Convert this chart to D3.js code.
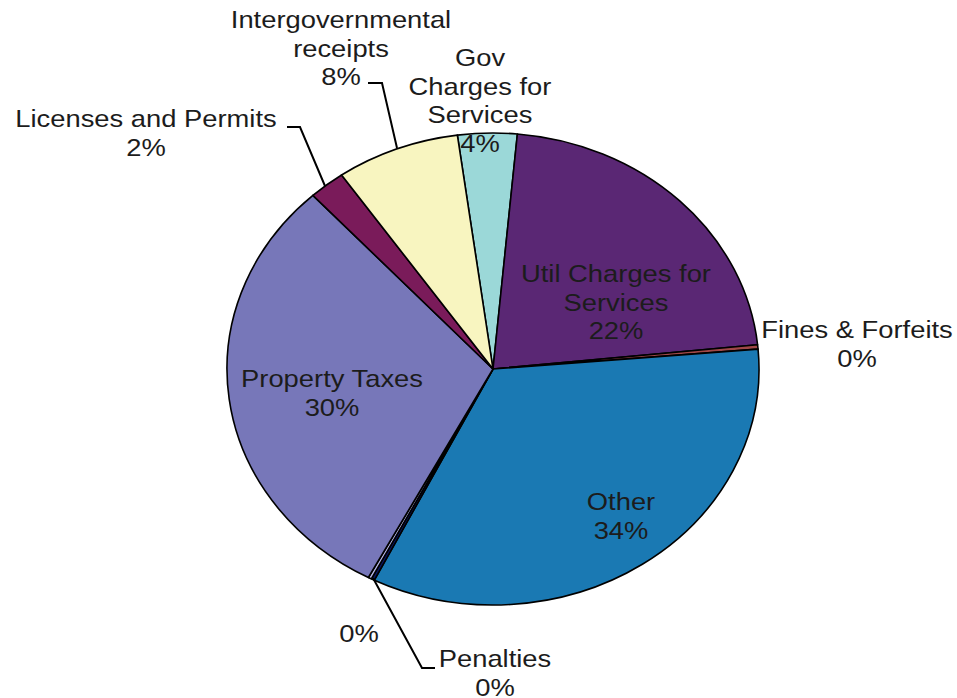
<!DOCTYPE html>
<html>
<head>
<meta charset="utf-8">
<script src="https://cdn.jsdelivr.net/npm/d3@7"></script>
<style>
  html, body { margin: 0; padding: 0; background: #fff; }
  svg { display: block; }
  text { font-family: "Liberation Sans", Arial, sans-serif; font-size: 24px; fill: #1c1c1c; }
</style>
</head>
<body>
<svg width="957" height="698"></svg>
<script>
// slices, clockwise starting from the top
var categories = ["Gov Charges for Services", "Util Charges for Services", "Fines & Forfeits", "Other",
                  "Penalties", "", "Property Taxes", "Licenses and Permits", "Intergovernmental receipts"];
var values = [3.6, 21.9, 0.3, 33.7, 0.2, 0.2, 30.4, 2.2, 7.5];
var colors = ["#9bd8d8", "#5a2774", "#a04848", "#1a79b3", "#0a1660", "#b4b4e4", "#7777b9", "#7a1b5a", "#f8f5c0"];

// label layout (line breaks and anchor per slice)
var labelLines = [["Gov", "Charges for", "Services"], ["Util Charges for", "Services"], ["Fines & Forfeits"], ["Other"],
                  ["Penalties"], [], ["Property Taxes"], ["Licenses and Permits"], ["Intergovernmental", "receipts"]];
var labelAt = [[480, 66], [616, 282], [857, 338], [621, 510], [495, 667], [359, 642], [332, 387], [146, 127], [341, 28]];
var leaders = {
  "Intergovernmental receipts": [[368, 83], [382, 83], [397, 148]],
  "Licenses and Permits": [[287, 127], [300, 127], [325, 186]],
  "Penalties": [[373, 578], [422, 668], [435, 668]]
};

var svg = d3.select("svg");
var cx = 493, cy = 369, rx = 266, ry = 236;
var sx = rx / ry;

var pie = d3.pie().sort(null).value(function(d) {return d;})
  .startAngle(-7.7 * Math.PI / 180)
  .endAngle(-7.7 * Math.PI / 180 + 2 * Math.PI);
var arc = d3.arc().innerRadius(0).outerRadius(ry);

var g = svg.append("g").attr("transform", "translate(" + cx + "," + cy + ") scale(" + sx + ",1)");
g.selectAll("path")
  .data(pie(values))
  .enter()
  .append("path")
    .attr("d", arc)
    .attr("fill", function(d, i) {return colors[i];})
    .attr("stroke", "#000")
    .attr("stroke-width", 1.6)
    .attr("stroke-linejoin", "round")
    .attr("vector-effect", "non-scaling-stroke");

var line = d3.line();
Object.keys(leaders).forEach(function(k) {
  svg.append("path")
    .attr("d", line(leaders[k]))
    .attr("fill", "none")
    .attr("stroke", "#000")
    .attr("stroke-width", 2);
});

var lh = 28.6;
values.forEach(function(v, i) {
  var lines = labelLines[i].concat([Math.round(v) + "%"]);
  var t = svg.append("text")
    .attr("text-anchor", "middle")
    .attr("transform", "translate(" + labelAt[i][0] + "," + labelAt[i][1] + ") scale(1.14,1)");
  lines.forEach(function(s, j) {
    t.append("tspan").attr("x", 0).attr("y", j * lh).text(s);
  });
});
</script>
</body>
</html>
